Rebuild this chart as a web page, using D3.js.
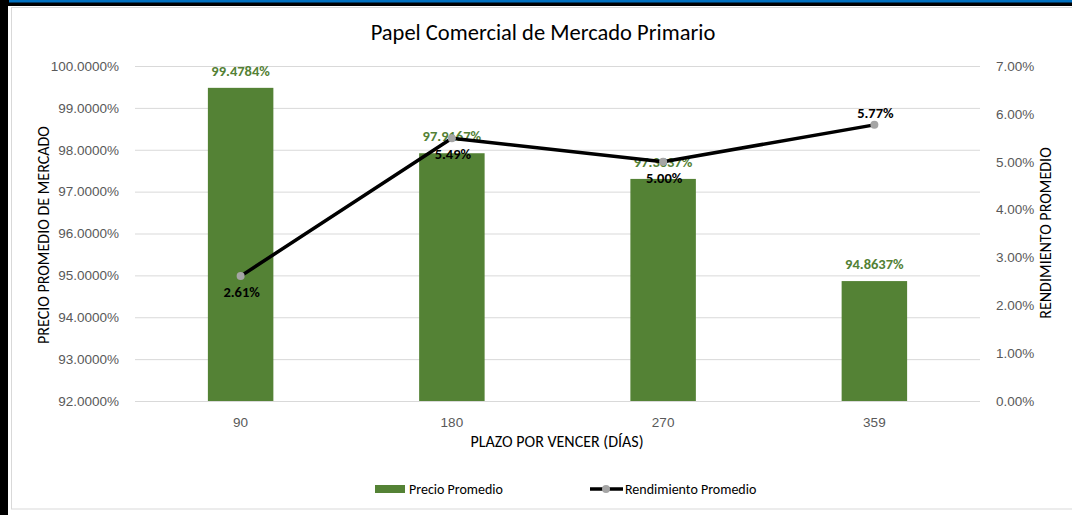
<!DOCTYPE html>
<meta charset="utf-8">
<style>
body { margin: 0; background: #fff; }
svg { display: block; font-family: Carlito, Calibri, Lato, sans-serif; }
.tick text { fill: #595959; font-size: 13.5px; }
.grid line { stroke: #d9d9d9; }
.axis-title { fill: #000; font-size: 16px; }
.title { fill: #000; font-size: 22.5px; }
.bar-label { fill: #538135; font-size: 14.5px; font-weight: bold; }
.line-label { fill: #000; font-size: 14.5px; font-weight: bold; }
.legend { fill: #000; font-size: 14px; }
</style>
<body>
<div id="chart"></div>
<script src="https://cdn.jsdelivr.net/npm/d3@7"></script>
<script>

var plazos = ["90", "180", "270", "359"];
var precio = [99.4784, 97.9167, 97.3037, 94.8637];
var rendimiento = [2.61, 5.49, 5.00, 5.77];
var precioTicks = [92, 93, 94, 95, 96, 97, 98, 99, 100];
var rendTicks = [0, 1, 2, 3, 4, 5, 6, 7];
// where the line label goes: below or above the marker
var labelPos = ["below", "below", "below", "above"];

var width = 1072,
  height = 515;

var margin = {left: 135, right: 980, top: 66, bottom: 401};

var svg = d3.select("#chart").append("svg")
  .attr("width", width)
  .attr("height", height);

// frame
svg.append("rect").attr("x", 0).attr("y", 0).attr("width", width).attr("height", height).attr("fill", "#fff");
svg.append("rect").attr("x", 0).attr("y", 0).attr("width", 8).attr("height", height).attr("fill", "#000");
svg.append("rect").attr("x", 8).attr("y", 0).attr("width", width).attr("height", 6).attr("fill", "#000");
svg.append("rect").attr("x", 9).attr("y", 0).attr("width", width).attr("height", 2.5).attr("fill", "#0070c0");
svg.append("rect")
  .attr("x", 11.5).attr("y", 7.5)
  .attr("width", width).attr("height", 501.5)
  .attr("fill", "#fff").attr("stroke", "#d9d9d9");

var x = d3.scaleBand()
  .domain(plazos)
  .range([margin.left, margin.right])
  .paddingInner(0.69)
  .paddingOuter(0.345);

var y = d3.scaleLinear()
  .domain([92, 100])
  .range([margin.bottom, margin.top]);

var y2 = d3.scaleLinear()
  .domain([0, 7])
  .range([margin.bottom, margin.top]);

// gridlines
svg.append("g")
  .attr("class", "grid")
  .attr("transform", "translate(" + margin.left + ",0)")
  .call(d3.axisLeft(y).tickValues(precioTicks).tickSize(-(margin.right - margin.left)).tickFormat(""))
  .call(function(g) { g.select(".domain").remove(); });

// left axis
svg.append("g")
  .attr("transform", "translate(" + (margin.left - 13) + ",0)")
  .call(d3.axisLeft(y).tickValues(precioTicks).tickSize(0).tickFormat(function(d) { return d.toFixed(4) + "%"; }))
  .call(function(g) { g.select(".domain").remove(); });

// right axis
svg.append("g")
  .attr("transform", "translate(" + (margin.right + 13) + ",0)")
  .call(d3.axisRight(y2).tickValues(rendTicks).tickSize(0).tickFormat(function(d) { return d.toFixed(2) + "%"; }))
  .call(function(g) { g.select(".domain").remove(); });

// bottom axis
svg.append("g")
  .attr("transform", "translate(0," + (margin.bottom + 13) + ")")
  .call(d3.axisBottom(x).tickSize(0))
  .call(function(g) { g.select(".domain").remove(); });

// bars
svg.selectAll(".bar")
  .data(precio)
  .enter().append("rect")
  .attr("class", "bar")
  .attr("x", function(d, i) { return x(plazos[i]); })
  .attr("y", function(d) { return y(d); })
  .attr("width", x.bandwidth())
  .attr("height", function(d) { return y(92) - y(d); })
  .attr("fill", "#548235");

svg.selectAll(".bar-label")
  .data(precio)
  .enter().append("text")
  .attr("class", "bar-label")
  .attr("x", function(d, i) { return x(plazos[i]) + x.bandwidth() / 2; })
  .attr("y", function(d) { return y(d) - 12; })
  .attr("text-anchor", "middle")
  .text(function(d) { return d.toFixed(4) + "%"; });

// line
var line = d3.line()
  .x(function(d, i) { return x(plazos[i]) + x.bandwidth() / 2; })
  .y(function(d) { return y2(d); });

svg.append("path")
  .datum(rendimiento)
  .attr("d", line)
  .attr("fill", "none")
  .attr("stroke", "#000")
  .attr("stroke-width", 3.5)
  .attr("stroke-linejoin", "round");

svg.selectAll(".dot")
  .data(rendimiento)
  .enter().append("circle")
  .attr("cx", function(d, i) { return x(plazos[i]) + x.bandwidth() / 2; })
  .attr("cy", function(d) { return y2(d); })
  .attr("r", 4)
  .attr("fill", "#a5a5a5");

svg.selectAll(".line-label")
  .data(rendimiento)
  .enter().append("text")
  .attr("class", "line-label")
  .attr("x", function(d, i) { return x(plazos[i]) + x.bandwidth() / 2 + 1; })
  .attr("y", function(d, i) { return labelPos[i] == "below" ? y2(d) + 21 : y2(d) - 7; })
  .attr("text-anchor", "middle")
  .text(function(d) { return d.toFixed(2) + "%"; });

// titles
svg.append("text")
  .attr("class", "title")
  .attr("x", 543)
  .attr("y", 40)
  .attr("text-anchor", "middle")
  .text("Papel Comercial de Mercado Primario");

svg.append("text")
  .attr("class", "axis-title")
  .attr("x", 557)
  .attr("y", 447)
  .attr("text-anchor", "middle")
  .text("PLAZO POR VENCER (DÍAS)");

svg.append("text")
  .attr("class", "axis-title")
  .attr("transform", "translate(49,235) rotate(-90)")
  .attr("text-anchor", "middle")
  .text("PRECIO PROMEDIO DE MERCADO");

svg.append("text")
  .attr("class", "axis-title")
  .attr("transform", "translate(1051,233) rotate(-90)")
  .attr("text-anchor", "middle")
  .text("RENDIMIENTO PROMEDIO");

// legend
svg.append("rect")
  .attr("x", 375).attr("y", 485)
  .attr("width", 30).attr("height", 8)
  .attr("fill", "#548235");
svg.append("text")
  .attr("class", "legend")
  .attr("x", 409).attr("y", 494)
  .text("Precio Promedio");

svg.append("line")
  .attr("x1", 590).attr("x2", 623)
  .attr("y1", 489).attr("y2", 489)
  .attr("stroke", "#000").attr("stroke-width", 3.5);
svg.append("circle")
  .attr("cx", 606).attr("cy", 489).attr("r", 4)
  .attr("fill", "#a5a5a5");
svg.append("text")
  .attr("class", "legend")
  .attr("x", 625).attr("y", 494)
  .text("Rendimiento Promedio");

</script>
</body>
